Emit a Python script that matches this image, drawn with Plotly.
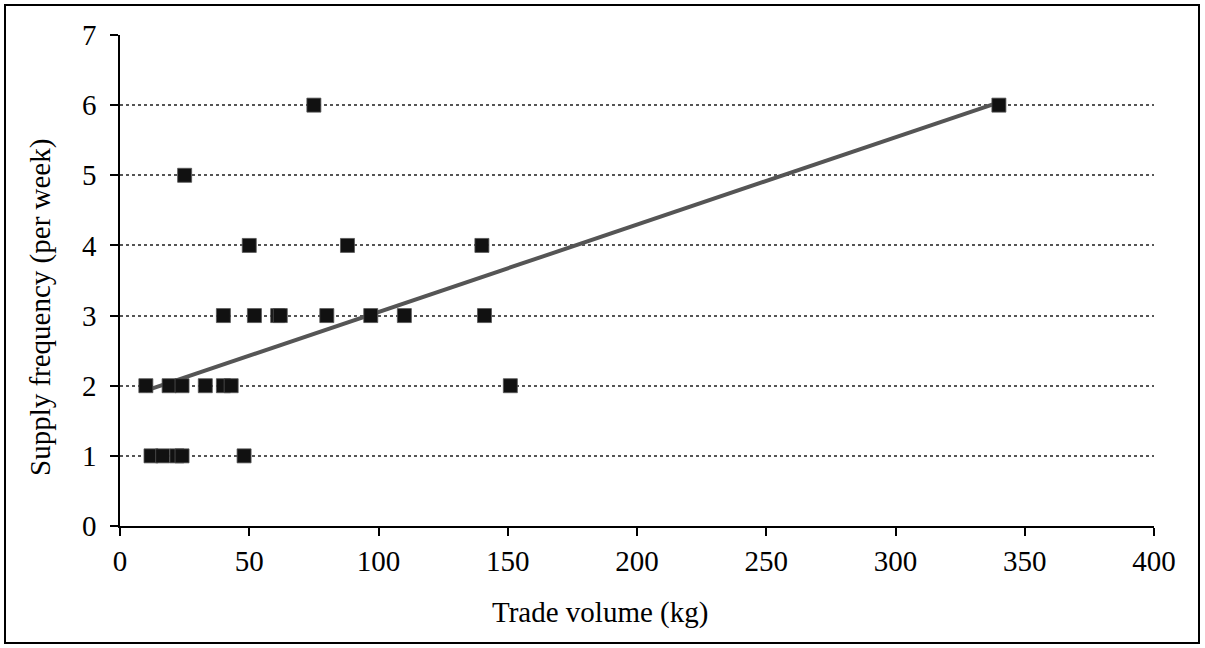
import plotly.graph_objects as go

# Scatter data
trade_volume = [10, 19, 24, 33, 40, 43, 151,
                12, 16.5, 22, 24, 48,
                40, 52, 61, 62, 80, 97, 110, 141,
                50, 88, 140,
                25,
                75, 340]
supply_freq = [2, 2, 2, 2, 2, 2, 2,
               1, 1, 1, 1, 1,
               3, 3, 3, 3, 3, 3, 3, 3,
               4, 4, 4,
               5,
               6, 6]

# Linear trendline as drawn in the chart (endpoints)
trend_x = [10, 340]
trend_y = [1.93, 6.04]

x_ticks = [0, 50, 100, 150, 200, 250, 300, 350, 400]
y_ticks = [0, 1, 2, 3, 4, 5, 6, 7]

x_title = "Trade volume (kg)"
y_title = "Supply frequency (per week)"

FONT = "Liberation Serif, Times New Roman, serif"
FS = 29

fig = go.Figure()
fig.add_trace(go.Scatter(
    x=trend_x, y=trend_y, mode="lines",
    line=dict(color="#555555", width=4),
    hoverinfo="skip", showlegend=False,
))
fig.add_trace(go.Scatter(
    x=trade_volume, y=supply_freq, mode="markers",
    marker=dict(symbol="square", size=14, color="#111111",
                line=dict(color="#555555", width=0.8)),
    showlegend=False,
))

W, H = 1205, 648
ml, mr, mt, mb = 120, 51, 35, 122
pw, ph = W - ml - mr, H - mt - mb

def px_x(p):
    return (p - ml) / pw

def px_y(p):
    return (H - mb - p) / ph

fig.update_layout(
    width=W, height=H,
    margin=dict(l=ml, r=mr, t=mt, b=mb, pad=0),
    paper_bgcolor="white", plot_bgcolor="white",
    font=dict(family=FONT, size=FS, color="black"),
    xaxis=dict(
        range=[0, 400], tickvals=x_ticks, ticktext=[str(v) for v in x_ticks],
        showgrid=False, zeroline=False,
        showline=True, linecolor="black", linewidth=1.5,
        ticks="outside", ticklen=8, tickwidth=1.5, tickcolor="black",
        tickfont=dict(family=FONT, size=FS),
    ),
    yaxis=dict(
        range=[0, 7], tickvals=y_ticks, ticktext=[str(v) for v in y_ticks],
        showgrid=True, gridcolor="#555555", griddash="dot", gridwidth=1.5,
        zeroline=False,
        showline=True, linecolor="black", linewidth=1.5,
        ticks="outside", ticklen=8, tickwidth=1.5, tickcolor="black",
        tickfont=dict(family=FONT, size=FS), ticklabelstandoff=8,
    ),
    annotations=[
        dict(text=x_title, xref="paper", yref="paper",
             x=px_x(600), y=px_y(612), xanchor="center", yanchor="middle",
             showarrow=False, font=dict(family=FONT, size=FS)),
        dict(text=y_title, xref="paper", yref="paper", textangle=-90,
             x=px_x(40), y=px_y(308), xanchor="center", yanchor="middle",
             showarrow=False, font=dict(family=FONT, size=FS)),
    ],
    shapes=[dict(
        type="rect", xref="paper", yref="paper",
        x0=px_x(5), x1=px_x(1199), y0=px_y(643), y1=px_y(5),
        line=dict(color="black", width=2), fillcolor="rgba(0,0,0,0)", layer="below",
    )],
)

fig.write_html("out.html")
